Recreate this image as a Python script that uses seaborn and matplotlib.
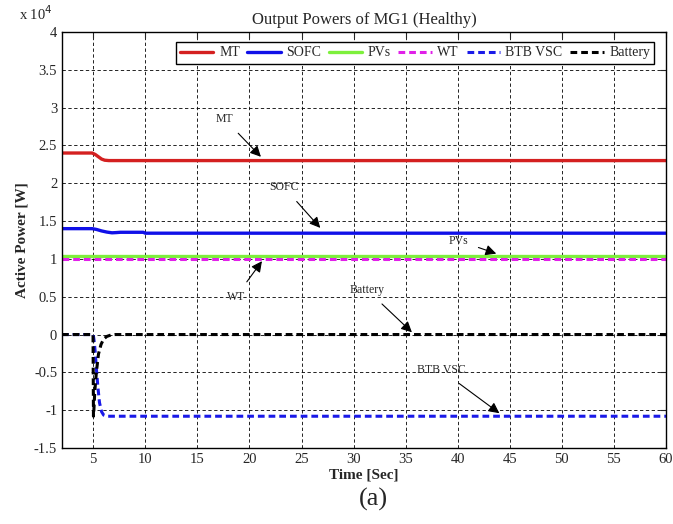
import numpy as np
import pandas as pd
import seaborn as sns
import matplotlib
matplotlib.use("Agg")
import matplotlib.pyplot as plt
from matplotlib.ticker import FuncFormatter

# ---- data, powers in W ----
t_mt = [2, 4.9, 5.2, 5.5, 5.8, 6.1, 6.5, 7, 60]
p_mt = [24000, 24000, 23800, 23500, 23200, 23050, 23000, 23000, 23000]

t_sofc = [2, 4.9, 5.3, 5.8, 6.3, 6.8, 7.2, 7.6, 9.8, 10.0, 60]
p_sofc = [14000, 14000, 13900, 13700, 13550, 13450, 13480, 13520, 13520, 13400, 13400]

t_pv = [2, 60]
p_pv = [10400, 10400]

t_wt = [2, 60]
p_wt = [10000, 10000]

t_btb = [2, 5.0, 5.1, 5.2, 5.3, 5.45, 5.6, 5.8, 6.0, 6.3, 60]
p_btb = [0, 0, -1000, -2500, -4500, -7000, -9000, -10200, -10650, -10800, -10800]

t_bat = [2, 4.98, 5.02, 5.06, 5.15, 5.3, 5.5, 5.75, 6.0, 6.3, 6.7, 7.1, 60]
p_bat = [0, 0, -10800, -10000, -7500, -5000, -2600, -1300, -600, -250, -60, 0, 0]

series_names = ["MT", "SOFC", "PVs", "WT", "BTB VSC", "Battery"]
series_t = [t_mt, t_sofc, t_pv, t_wt, t_btb, t_bat]
series_p = [p_mt, p_sofc, p_pv, p_wt, p_btb, p_bat]
colors = ["#d42020", "#1010e8", "#7df03c", "#e020e8", "#1a1ae8", "#000000"]
dashed = [False, False, False, True, True, True]

# annotations: label, text position, arrow target (data coords)
ann_labels = ["MT", "SOFC", "PVs", "WT", "Battery", "BTB VSC"]
ann_text = [(17.6, 28500), (23.3, 19500), (40.1, 12400), (18.7, 5000), (31.3, 5900), (38.4, -4700)]
ann_tip = [(21.1, 23500), (26.8, 14100), (43.7, 10700), (21.2, 9700), (35.6, 300), (44.0, -10400)]

xticks = [5, 10, 15, 20, 25, 30, 35, 40, 45, 50, 55, 60]
yticks = np.arange(-15000, 40001, 5000)

# ---- plotting ----
sns.set_style("white")
plt.rcParams['font.family'] = ['Liberation Serif', 'DejaVu Serif']

fig = plt.figure(figsize=(6.73, 5.24), dpi=100)
ax = fig.add_axes([62 / 673, 76 / 524, 604 / 673, 416 / 524])

for name, tt, pp, c, d in zip(series_names, series_t, series_p, colors, dashed):
    df = pd.DataFrame({"t": tt, "p": pp})
    sns.lineplot(data=df, x="t", y="p", ax=ax, color=c, label=name,
                 lw=2.2 if d else 2.4, estimator=None, sort=False,
                 linestyle=(0, (2.2, 1.3)) if d else "-")

ax.set_xlim(2, 60)
ax.set_ylim(-15000, 40000)
ax.set_xticks(xticks)
ax.set_yticks(yticks)
ax.yaxis.set_major_formatter(FuncFormatter(lambda v, p: f"{v/1e4:g}"))
ax.tick_params(direction="in", labelsize=10.5, length=4, top=True, right=True)
ax.grid(True, color="black", linestyle=(0, (4, 3)), lw=0.6)
for s in ax.spines.values():
    s.set_color("black")
    s.set_linewidth(1.0)

ax.set_title("Output Powers of MG1 (Healthy)", fontsize=12, pad=6)
ax.set_xlabel("Time [Sec]", fontsize=11, fontweight="bold", labelpad=2)
ax.set_ylabel("Active Power [W]", fontsize=11, fontweight="bold", labelpad=4)
ax.text(-0.015, 1.022, r"x 10$^{4}$", transform=ax.transAxes, fontsize=10.5,
        ha="right", va="bottom")
fig.text(0.555, 0.025, "(a)", fontsize=19, ha="center", va="bottom")

for lab, tp, tip in zip(ann_labels, ann_text, ann_tip):
    ax.annotate(lab, xy=tip, xytext=tp, fontsize=8.5, ha="center", va="center",
                arrowprops=dict(arrowstyle="-|>", color="black", lw=0.8,
                                mutation_scale=16, shrinkA=5, shrinkB=0))

leg = ax.legend(loc="upper right", ncol=6, fontsize=10, frameon=True,
                fancybox=False, edgecolor="black", framealpha=1,
                handlelength=2.4, columnspacing=0.55, handletextpad=0.4,
                borderpad=0.3, bbox_to_anchor=(0.992, 0.992))
leg.get_frame().set_linewidth(1.0)

fig.savefig("out.png", dpi=100)
